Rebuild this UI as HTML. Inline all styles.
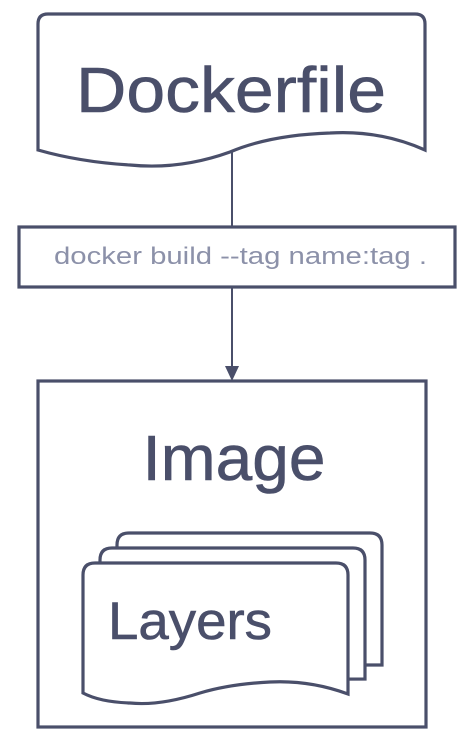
<!DOCTYPE html>
<html><head><meta charset="utf-8"><style>
html,body{margin:0;padding:0;background:#fff;width:473px;height:746px;overflow:hidden}
text{font-family:"Liberation Sans",sans-serif}
</style></head><body>
<svg width="473" height="746" viewBox="0 0 473 746" xmlns="http://www.w3.org/2000/svg">
<g fill="#fff" stroke="#4a4f6a" stroke-width="3.2">
<path d="M38,150 L38,24 Q38,14 48,14 L415,14 Q425,14 425,24 L425,150 Q380,130 330,133 Q270,135 230,152 Q180,170 130,165 Q80,162 38,150 Z"/>
<line x1="232" y1="152" x2="232" y2="226" stroke-width="2"/>
<rect x="19" y="227" width="436" height="60"/>
<line x1="232" y1="287" x2="232" y2="370" stroke-width="2"/>
<rect x="38" y="381" width="388" height="346"/>
<path d="M117,665 L117,545 Q117,533 129,533 L370,533 Q382,533 382,545 L382,665 Z"/>
<path d="M100,680 L100,560 Q100,548 112,548 L353,548 Q365,548 365,560 L365,679 Z"/>
<path d="M83,693 L83,575 Q83,563 95,563 L336,563 Q348,563 348,575 L348,694 Q310,680 270,682 Q230,684 200,693 Q160,706 130,703 Q100,702 83,693 Z"/>
</g>
<polygon points="225,366 239,366 232,381" fill="#4a4f6a"/>
<g fill="#4a4f6a" stroke="#4a4f6a" stroke-width="0.6">
<text x="231" y="112" font-size="64" text-anchor="middle" textLength="310" lengthAdjust="spacingAndGlyphs">Dockerfile</text>
<text x="234" y="480" font-size="64" text-anchor="middle" textLength="183" lengthAdjust="spacingAndGlyphs">Image</text>
<text x="108" y="639" font-size="53" textLength="164" lengthAdjust="spacingAndGlyphs">Layers</text>
</g>
<text x="54" y="264" font-size="24" fill="#8c91a9" textLength="373" lengthAdjust="spacingAndGlyphs">docker build --tag name:tag .</text>
</svg>
</body></html>
